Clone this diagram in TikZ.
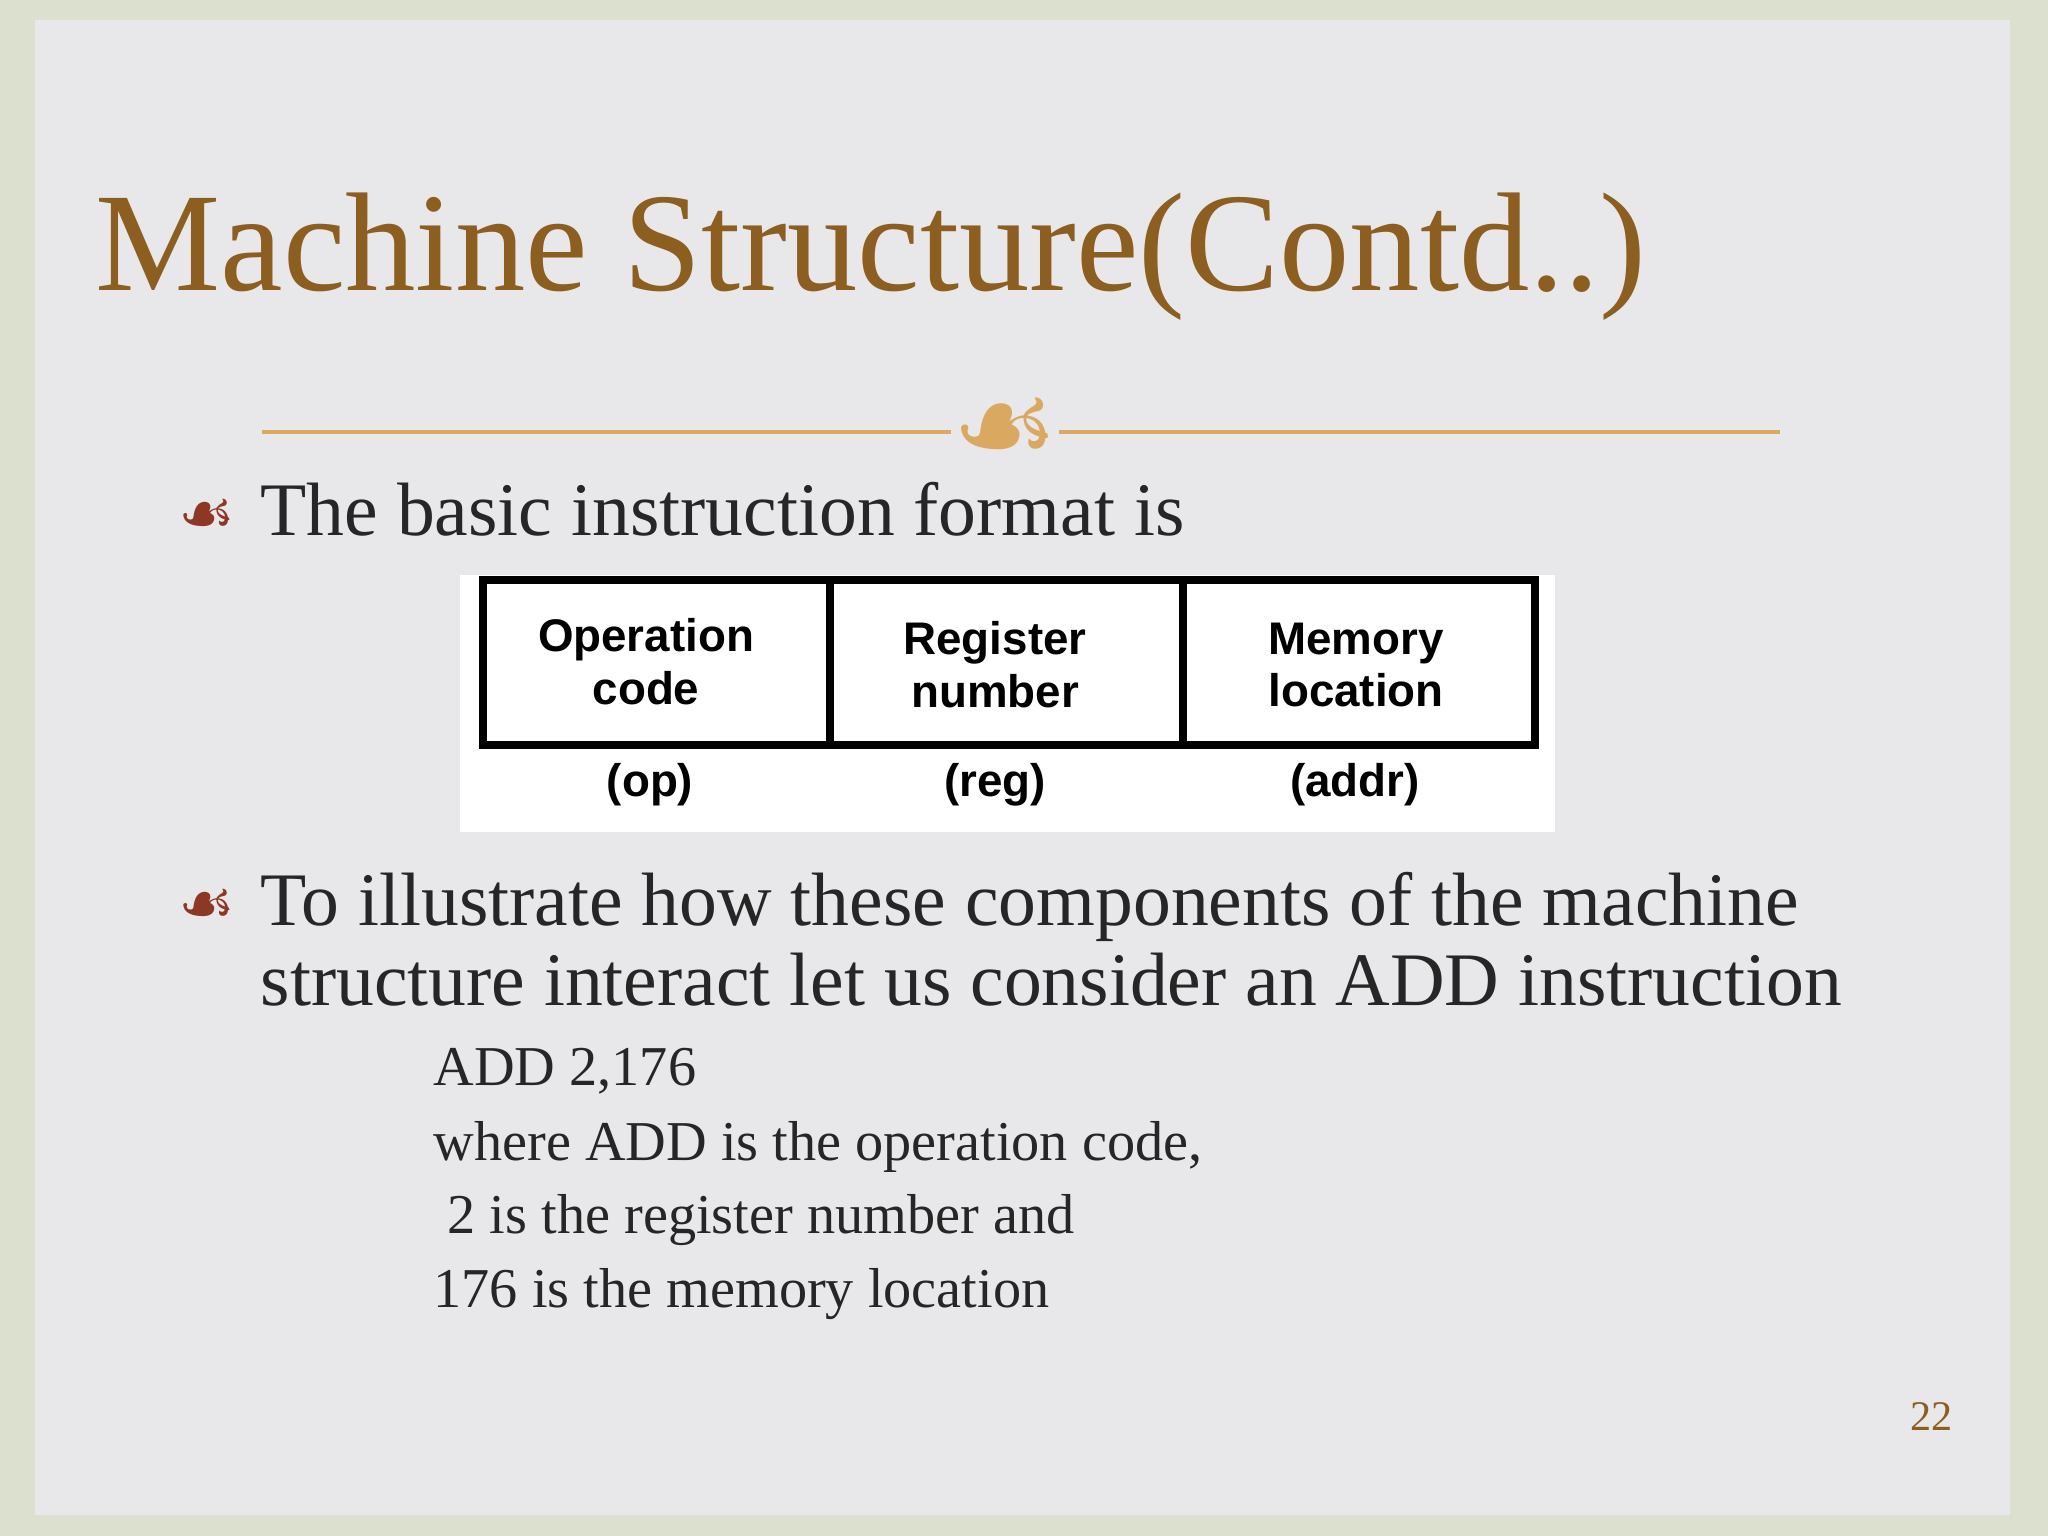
\documentclass[tikz,border=0pt]{standalone}
\usepackage{fontspec}
\setmainfont{Liberation Serif}
\setsansfont{Liberation Sans}
\newfontfamily\orn{DejaVu Sans}
\usetikzlibrary{positioning}
\definecolor{titlebrown}{rgb}{0.55,0.37,0.12}
\definecolor{ruletan}{rgb}{0.86,0.66,0.38}
\definecolor{bulletred}{rgb}{0.55,0.22,0.14}
\definecolor{bodytext}{rgb}{0.15,0.15,0.15}
\definecolor{slidegray}{rgb}{0.91,0.91,0.92}
\definecolor{framegreen}{rgb}{0.86,0.88,0.81}

\begin{document}
\begin{tikzpicture}[
    x=0.01cm, y=-0.01cm,
    title/.style  = {anchor=base west, inner sep=0, text=titlebrown,
      font=\fontsize{40}{44}\selectfont},
    bullet/.style = {anchor=base west, inner sep=0, text=bulletred,
      font=\orn\fontsize{18}{18}\selectfont},
    body/.style   = {anchor=base west, inner sep=0, text=bodytext,
      font=\fontsize{21.5}{26}\selectfont},
    small/.style  = {anchor=base west, inner sep=0, text=bodytext,
      font=\fontsize{16}{19}\selectfont},
    cell/.style   = {align=center, font=\sffamily\bfseries\fontsize{13}{15}\selectfont}
  ]
  % background
  \fill[framegreen] (0,0) rectangle (2048,1536);
  \fill[slidegray] (35,20) rectangle (2010,1515);
  \useasboundingbox (0,0) rectangle (2048,1536);

  % title and rule
  \node[title] (title) at (95,290) {Machine Structure(Contd..)};
  \coordinate (ruleL) at (262,432);
  \coordinate (ruleR) at (1780,432);
  \node[text=ruletan, font=\orn\fontsize{34}{34}\selectfont, inner sep=0,
    fill=slidegray] (orn) at (1005,432) {☙};
  \draw[ruletan, line width=1.2pt] (ruleL) -- (orn.west);
  \draw[ruletan, line width=1.2pt] (orn.east) -- (ruleR);

  % first bullet
  \node[bullet] (b1) at (178,535) {☙};
  \node[body] (t1) at (260,535) {The basic instruction format is};

  % instruction format table
  \fill[white] (460,575) rectangle (1555,832);
  \draw[line width=2.5pt] (483,580) rectangle (1535,745);
  \draw[line width=2.5pt] (830,580) -- (830,745);
  \draw[line width=2.5pt] (1183,580) -- (1183,745);
  \node[cell] (op)   at (646,662)  {Operation\\code};
  \node[cell] (reg)  at (995,665) {Register\\number};
  \node[cell] (addr) at (1356,665) {Memory\\location};
  \node[cell] (opL)   at (650,785)  {(op)};
  \node[cell] (regL)  at (995,785)  {(reg)};
  \node[cell] (addrL) at (1355,785) {(addr)};

  % second bullet
  \node[bullet] (b2) at (178,925) {☙};
  \node[body] (t2) at (260,925) {To illustrate how these components of the machine};
  \node[body] (t3) at (260,1005) {structure interact let us consider an ADD instruction};

  % example lines
  \node[small] (l1) at (433,1085) {ADD 2,176};
  \node[small] (l2) at (433,1160) {where ADD is the operation code,};
  \node[small] (l3) at (433,1233) {\ 2 is the register number and};
  \node[small] (l4) at (433,1307) {176 is the memory location};

  % page number
  \node[anchor=base west, inner sep=0, text=titlebrown,
    font=\fontsize{12}{14}\selectfont] (page) at (1910,1430) {22};
\end{tikzpicture}
\end{document}
